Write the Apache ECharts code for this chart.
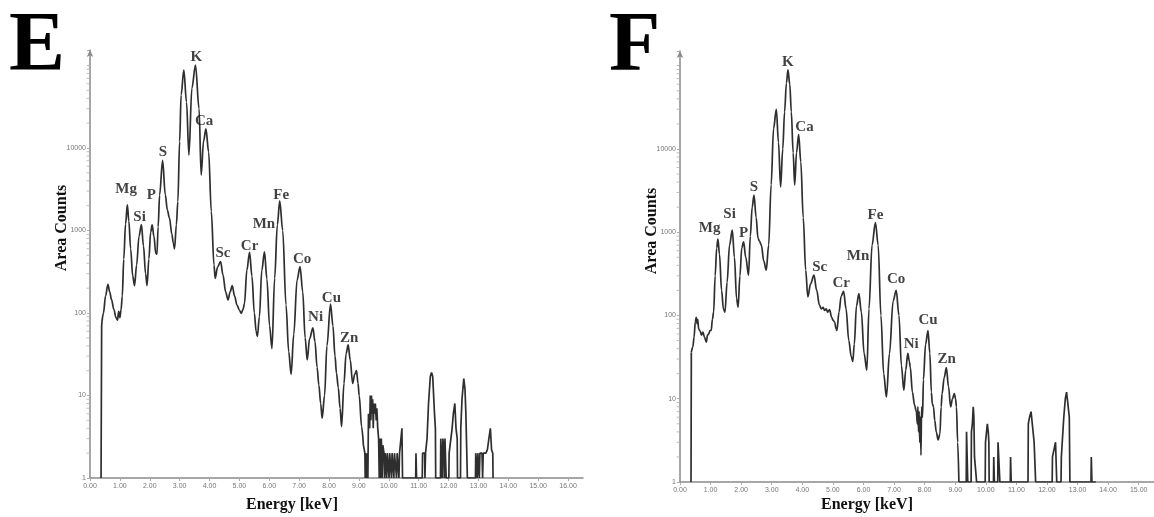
<!DOCTYPE html>
<html><head><meta charset="utf-8">
<script src="https://cdn.jsdelivr.net/npm/echarts@6/dist/echarts.min.js"></script>
<style>html,body{margin:0;padding:0;background:#fff}#c{width:1154px;height:517px}</style>
</head><body><div id="c"></div>
<script>
// ---- data (energy keV, area counts) ----
const elements = ['Mg','Si','P','S','K','Ca','Sc','Cr','Mn','Fe','Co','Ni','Cu','Zn'];
const labelAtE = [[1.21,3160],[1.66,1470],[2.05,2690],[2.44,8870],[3.56,128000],[3.82,21200],[4.45,529],[5.34,649],[5.82,1190],[6.40,2690],[7.10,448],[7.55,88],[8.08,153],[8.67,49]];
const labelAtF = [[0.97,1130],[1.62,1650],[2.08,984],[2.42,3510],[3.53,112000],[4.07,18500],[4.57,384],[5.27,243],[5.82,520],[6.39,1600],[7.07,271],[7.56,45],[8.11,88],[8.72,30]];

const eStart = [[0.37,1],[0.39,70],[0.40,78]];
const eMain = [[0.40,78],[0.45,100],[0.52,160],[0.60,223],[0.66,180],[0.72,145],[0.80,110],[0.87,88],[0.92,82],[0.96,105],[1.00,88],[1.04,110],[1.08,160],[1.13,450],[1.19,1200],[1.25,2050],[1.30,1300],[1.36,600],[1.43,280],[1.49,215],[1.56,380],[1.64,850],[1.72,1180],[1.79,650],[1.86,300],[1.91,215],[1.97,450],[2.03,950],[2.08,1170],[2.14,850],[2.20,530],[2.24,515],[2.28,1100],[2.33,2700],[2.43,7100],[2.52,2700],[2.59,1770],[2.66,1410],[2.74,900],[2.79,700],[2.83,600],[2.89,1170],[2.94,2240],[3.00,12000],[3.05,44000],[3.14,88000],[3.23,36000],[3.31,8200],[3.41,53000],[3.53,101000],[3.65,30000],[3.72,4700],[3.80,12000],[3.88,17000],[3.97,9000],[4.06,1700],[4.15,380],[4.19,263],[4.27,360],[4.37,420],[4.45,290],[4.54,180],[4.62,144],[4.69,180],[4.76,215],[4.84,160],[4.92,125],[5.00,108],[5.06,99],[5.12,110],[5.17,130],[5.25,330],[5.34,545],[5.42,280],[5.50,100],[5.56,60],[5.60,52],[5.67,90],[5.75,330],[5.84,550],[5.92,260],[6.01,70],[6.09,37],[6.18,263],[6.27,1170],[6.35,2280],[6.45,1000],[6.56,125],[6.65,34],[6.73,18],[6.82,55],[6.93,250],[7.03,365],[7.12,180],[7.20,50],[7.27,27],[7.35,49],[7.46,66],[7.53,45],[7.60,22],[7.66,13.4],[7.72,8],[7.77,5.3],[7.85,10],[7.93,40],[8.05,128],[8.13,70],[8.20,30],[8.25,18.6],[8.31,12.5],[8.37,7],[8.42,4.2],[8.50,14],[8.57,32],[8.64,41],[8.71,27],[8.79,14],[8.86,18],[8.92,20],[8.97,14],[9.01,10],[9.09,4.2],[9.15,2.5]];
const eNoise = [[9.15,2.5],[9.20,2],[9.21,1],[9.23,2],[9.25,1],[9.27,2],[9.30,1],[9.32,6],[9.36,4],[9.38,10],[9.40,5],[9.42,10],[9.44,6],[9.46,9],[9.48,4],[9.50,8],[9.53,6],[9.55,8],[9.58,5],[9.60,7],[9.63,4],[9.66,3],[9.68,1],[9.70,3],[9.72,1],[9.75,3],[9.78,1],[9.80,2.5],[9.84,2],[9.86,1],[9.88,2],[9.92,2],[9.93,1],[9.95,2],[10.00,2],[10.01,1],[10.03,2],[10.08,2],[10.09,1],[10.11,2],[10.16,2],[10.17,1],[10.19,2],[10.25,2],[10.26,1],[10.28,2],[10.33,2],[10.34,1],[10.36,2],[10.42,2],[10.44,4],[10.46,1],[10.90,1],[10.91,2],[10.93,1],[11.12,1],[11.13,2],[11.20,2],[11.21,1],[11.23,2],[11.28,3],[11.33,8],[11.39,17],[11.43,19],[11.47,17],[11.53,6],[11.56,4],[11.57,1],[11.73,1],[11.74,3],[11.78,3],[11.79,1],[11.81,3],[11.85,2],[11.86,1],[11.88,3],[11.91,3],[11.92,1],[12.01,1],[12.02,2],[12.07,2],[12.12,4],[12.16,6],[12.21,8],[12.25,4],[12.29,3],[12.30,1],[12.40,1],[12.41,4],[12.45,9],[12.51,16],[12.55,12],[12.58,6],[12.62,6],[12.63,1],[12.90,1],[12.91,2],[12.95,2],[12.96,1],[12.98,2],[13.02,2],[13.03,1],[13.05,2],[13.12,2],[13.14,1],[13.16,2],[13.25,2],[13.30,2.2],[13.35,3],[13.40,4],[13.44,2.2],[13.48,2],[13.49,1]];

const fStart = [[0.36,1],[0.37,30],[0.37,36]];
const fMain = [[0.37,36],[0.42,42],[0.46,55],[0.50,84],[0.53,95],[0.56,80],[0.58,90],[0.61,69],[0.66,65],[0.70,58],[0.75,63],[0.80,55],[0.86,48],[0.90,58],[0.94,60],[0.98,66],[1.02,66],[1.06,90],[1.10,110],[1.15,300],[1.20,650],[1.24,830],[1.29,550],[1.36,200],[1.42,120],[1.47,110],[1.54,250],[1.62,700],[1.71,1060],[1.78,500],[1.85,160],[1.90,126],[1.96,300],[2.02,650],[2.08,765],[2.15,500],[2.24,305],[2.30,900],[2.36,2000],[2.42,2800],[2.49,1500],[2.55,850],[2.60,780],[2.66,700],[2.74,450],[2.82,350],[2.90,700],[2.98,3700],[3.06,17700],[3.15,30000],[3.22,12000],[3.29,3500],[3.36,10000],[3.42,28000],[3.48,62000],[3.53,89000],[3.59,60000],[3.64,28000],[3.70,9000],[3.75,3700],[3.81,9000],[3.88,15000],[3.95,7000],[4.03,1500],[4.11,350],[4.18,167],[4.27,240],[4.38,305],[4.47,200],[4.56,133],[4.62,120],[4.68,125],[4.73,115],[4.78,120],[4.83,110],[4.89,118],[4.96,95],[5.00,88],[5.06,83],[5.10,70],[5.13,66],[5.20,110],[5.27,170],[5.35,195],[5.43,120],[5.52,50],[5.60,32],[5.65,28],[5.70,45],[5.77,130],[5.85,183],[5.93,110],[6.02,35],[6.11,22],[6.18,120],[6.28,700],[6.39,1310],[6.48,700],[6.57,100],[6.66,20],[6.75,10.5],[6.85,35],[6.97,150],[7.07,200],[7.16,100],[7.24,25],[7.32,12.6],[7.38,22],[7.45,35],[7.50,28],[7.53,24],[7.60,12],[7.67,8.4],[7.73,7],[7.76,5],[7.78,8],[7.80,4],[7.82,7],[7.84,3],[7.86,6],[7.88,2.1],[7.90,8],[7.93,6],[7.96,17],[8.03,45],[8.11,66],[8.17,35],[8.22,12],[8.25,8.7],[8.29,8],[8.33,5.5],[8.38,4],[8.44,3.2],[8.50,3.8],[8.54,8],[8.57,11.5],[8.64,18],[8.71,23.6],[8.78,14],[8.85,8],[8.91,10],[8.97,11.5],[9.01,10],[9.04,8],[9.08,3],[9.12,1]];
const fNoise = [[9.12,1],[9.36,1],[9.37,4],[9.40,4],[9.41,1],[9.52,1],[9.53,4],[9.56,5],[9.59,8],[9.61,6],[9.63,2],[9.68,2],[9.70,1],[9.98,1],[9.99,3],[10.02,3],[10.05,5],[10.08,4],[10.10,3],[10.11,1],[10.25,1],[10.26,2],[10.28,1],[10.39,1],[10.40,3],[10.45,3],[10.46,1],[10.80,1],[10.81,2],[10.83,1],[11.38,1],[11.39,5],[11.43,6],[11.48,7],[11.52,5],[11.58,3],[11.62,3],[11.63,1],[12.17,1],[12.18,2],[12.24,2],[12.28,3],[12.31,3],[12.32,1],[12.46,1],[12.47,2],[12.52,2],[12.55,6],[12.60,10],[12.64,12],[12.68,9],[12.73,6],[12.75,1],[13.44,1],[13.45,2],[13.47,1],[13.60,1]];

// ---- chart ----
const LINE = '#2e2e2e';
const AXIS = '#8a8a8a';
const SERIF = '"Liberation Serif","Times New Roman",serif';

// minor log ticks (axis decoration)
const minorVals = [];
for (let k = 0; k < 5; k++) for (let m = 2; m <= 9; m++) minorVals.push(m * Math.pow(10, k));

function xAxisFor(gi, max) {
  return {
    type: 'value', gridIndex: gi, min: 0, max: max, interval: 1,
    axisLine: { onZero: false, lineStyle: { color: AXIS, width: 1.5 } },
    axisTick: { show: true, length: 3, lineStyle: { color: '#aaa' } },
    axisLabel: { fontSize: 7, color: '#777', margin: 5, showMaxLabel: false,
      fontFamily: 'Liberation Sans', formatter: v => v.toFixed(2) },
    splitLine: { show: false }
  };
}
function yAxisFor(gi, max) {
  return {
    type: 'log', logBase: 10, gridIndex: gi, min: 1, max: max,
    axisLine: { show: true, onZero: false, symbol: ['none', 'arrow'], symbolSize: [5, 7],
      lineStyle: { color: AXIS, width: 1.5 } },
    axisTick: { show: true, length: 3, lineStyle: { color: '#aaa' } },
    axisLabel: { fontSize: 7, color: '#777', margin: 4, fontFamily: 'Liberation Sans',
      formatter: v => { const r = Math.round(v); return r <= 10000 ? String(r) : ''; } },
    splitLine: { show: false }
  };
}
function lineSeries(gi, data, smooth) {
  return { type: 'line', xAxisIndex: gi, yAxisIndex: gi, data: data,
    showSymbol: false, symbol: 'none', smooth: smooth ? 0.35 : false,
    smoothMonotone: smooth ? 'x' : undefined,
    lineStyle: { color: LINE, width: 1.7 }, silent: true, z: 3 };
}
function labelSeries(gi, pts) {
  return { type: 'scatter', xAxisIndex: gi, yAxisIndex: gi, symbolSize: 1, clip: false,
    itemStyle: { color: 'rgba(0,0,0,0)' }, silent: true, z: 5,
    data: pts.map((p, i) => ({ name: elements[i], value: p })),
    label: { show: true, position: 'inside', formatter: '{b}', color: '#111',
      fontFamily: SERIF, fontWeight: 'bold', fontSize: 15 } };
}
function minorSeries(gi) {
  return { type: 'scatter', xAxisIndex: gi, yAxisIndex: gi, symbol: 'rect',
    symbolSize: [3, 1], symbolOffset: [-2, 0], clip: false, silent: true,
    itemStyle: { color: '#b0b0b0' }, data: minorVals.map(v => [0, v]) };
}

const chart = echarts.init(document.getElementById('c'), null, { renderer: 'canvas' });
chart.setOption({
  animation: false,
  backgroundColor: '#fff',
  grid: [
    { left: 90, top: 50, width: 493, height: 428 },
    { left: 680, top: 51, width: 474, height: 431 }
  ],
  xAxis: [xAxisFor(0, 16.5), xAxisFor(1, 15.5)],
  yAxis: [yAxisFor(0, 154000), yAxisFor(1, 150300)],
  series: [
    lineSeries(0, eStart, false), lineSeries(0, eMain, true), lineSeries(0, eNoise, false),
    labelSeries(0, labelAtE), minorSeries(0),
    lineSeries(1, fStart, false), lineSeries(1, fMain, true), lineSeries(1, fNoise, false),
    labelSeries(1, labelAtF), minorSeries(1)
  ],
  graphic: [
    { type: 'text', x: 9, y: 48, style: { text: 'E', font: 'bold 84px ' + SERIF, fill: '#000', align: 'left', verticalAlign: 'middle' } },
    { type: 'text', x: 609, y: 48, style: { text: 'F', font: 'bold 84px ' + SERIF, fill: '#000', align: 'left', verticalAlign: 'middle' } },
    { type: 'text', x: 62, y: 228, rotation: Math.PI / 2, style: { text: 'Area Counts', font: 'bold 16px ' + SERIF, fill: '#111', align: 'center', verticalAlign: 'middle' } },
    { type: 'text', x: 652, y: 231, rotation: Math.PI / 2, style: { text: 'Area Counts', font: 'bold 16px ' + SERIF, fill: '#111', align: 'center', verticalAlign: 'middle' } },
    { type: 'text', x: 292, y: 505, style: { text: 'Energy [keV]', font: 'bold 16px ' + SERIF, fill: '#111', align: 'center', verticalAlign: 'middle' } },
    { type: 'text', x: 867, y: 505, style: { text: 'Energy [keV]', font: 'bold 16px ' + SERIF, fill: '#111', align: 'center', verticalAlign: 'middle' } }
  ]
});
</script></body></html>
